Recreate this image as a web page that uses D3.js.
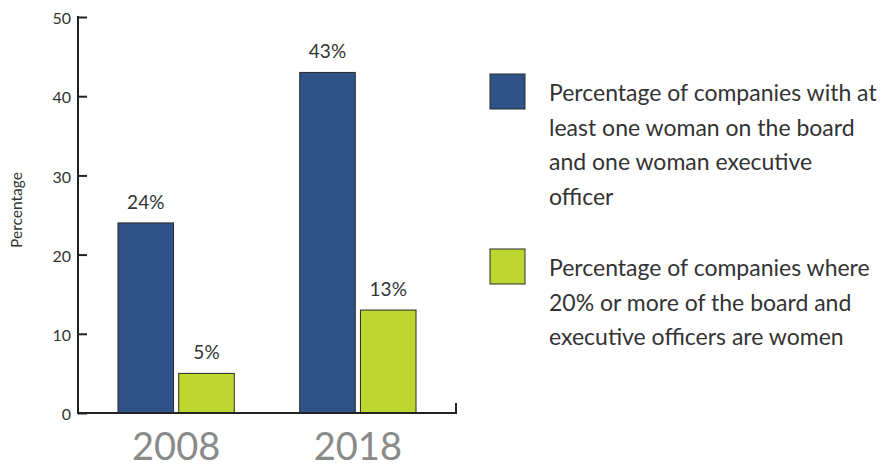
<!DOCTYPE html>
<html lang="en">
<head>
<meta charset="UTF-8">
<title>Women on boards</title>
<script src="https://d3js.org/d3.v7.min.js"></script>
<style>
  body { margin: 0; background: #fff; }
  text { font-family: Lato, "Open Sans", sans-serif; }
</style>
</head>
<body>
<div id="chart"></div>
<script>
// data
var years = ["2008", "2018"];
var seriesKeys = ["oneWoman", "twentyPct"];
var seriesLabels = [
  ["Percentage of companies with at", "least one woman on the board", "and one woman executive", "officer"],
  ["Percentage of companies where", "20% or more of the board and", "executive officers are women"]
];
var oneWoman = [24, 43];
var twentyPct = [5, 13];
var yTicks = [0, 10, 20, 30, 40, 50];

var colors = { oneWoman: "#2f5388", twentyPct: "#bdd630" };

var W = 883, H = 467;
var svg = d3.select("#chart").append("svg")
  .attr("width", W).attr("height", H);

var x = d3.scaleBand().domain(years).range([78, 456])
  .paddingInner(0.36).paddingOuter(0.22);
var xs = d3.scaleBand().domain(seriesKeys).range([0, x.bandwidth()])
  .paddingInner(0.085);
var y = d3.scaleLinear().domain([0, 50]).range([413, 17]);

var rows = years.map(function (yr, i) {
  return { year: yr, oneWoman: oneWoman[i], twentyPct: twentyPct[i] };
});

// bars
var groups = svg.append("g").selectAll("g")
  .data(rows).enter().append("g")
  .attr("transform", function (d) { return "translate(" + x(d.year) + ",0)"; });

groups.selectAll("rect")
  .data(function (d) { return seriesKeys.map(function (k) { return { key: k, value: d[k] }; }); })
  .enter().append("rect")
  .attr("x", function (d) { return xs(d.key); })
  .attr("y", function (d) { return y(d.value); })
  .attr("width", xs.bandwidth())
  .attr("height", function (d) { return y(0) - y(d.value); })
  .attr("fill", function (d) { return colors[d.key]; })
  .attr("stroke", "#2a2a2a")
  .attr("stroke-width", 1);

groups.selectAll("text.val")
  .data(function (d) { return seriesKeys.map(function (k) { return { key: k, value: d[k] }; }); })
  .enter().append("text")
  .attr("class", "val")
  .attr("x", function (d) { return xs(d.key) + xs.bandwidth() / 2; })
  .attr("y", function (d) { return y(d.value) - 14; })
  .attr("text-anchor", "middle")
  .style("font-size", "19px")
  .style("fill", "#333")
  .text(function (d) { return d.value + "%"; });

// y axis
var yAxis = svg.append("g")
  .attr("transform", "translate(78,0)")
  .call(d3.axisRight(y).tickValues(yTicks).tickSize(9).tickFormat(d3.format("d")));
yAxis.select(".domain").remove();
yAxis.selectAll(".tick line").attr("stroke", "#222").attr("stroke-width", 2);
yAxis.selectAll(".tick text")
  .attr("x", -7).attr("dy", "0.42em").attr("text-anchor", "end")
  .style("font-size", "16px").style("fill", "#333")
  .style("font-family", "Lato, sans-serif");
svg.append("line")
  .attr("x1", 78).attr("x2", 78).attr("y1", y(50) - 1).attr("y2", y(0) + 1)
  .attr("stroke", "#222").attr("stroke-width", 2);

// x axis
svg.append("path")
  .attr("d", "M78," + y(0) + "H456V" + (y(0) - 10))
  .attr("fill", "none").attr("stroke", "#222").attr("stroke-width", 2);

svg.selectAll("text.year")
  .data(years).enter().append("text")
  .attr("class", "year")
  .attr("x", function (d) { return x(d) + x.bandwidth() / 2; })
  .attr("y", 460)
  .attr("text-anchor", "middle")
  .style("font-size", "38px")
  .style("fill", "#8a8a8a")
  .text(function (d) { return d; });

svg.append("text")
  .attr("transform", "translate(22,210) rotate(-90)")
  .attr("text-anchor", "middle")
  .style("font-size", "15.5px")
  .style("fill", "#333")
  .text("Percentage");

// legend
var legendTop = [74, 249];
seriesKeys.forEach(function (k, i) {
  svg.append("rect")
    .attr("x", 490).attr("y", legendTop[i])
    .attr("width", 35).attr("height", 35)
    .attr("fill", colors[k])
    .attr("stroke", "#2a2a2a").attr("stroke-width", 1);
  var t = svg.append("text")
    .attr("x", 549).attr("y", legendTop[i] + 27)
    .style("font-size", "23px").style("fill", "#333");
  seriesLabels[i].forEach(function (line, j) {
    t.append("tspan").attr("x", 549).attr("dy", j === 0 ? 0 : 34.5).text(line);
  });
});
</script>
</body>
</html>
